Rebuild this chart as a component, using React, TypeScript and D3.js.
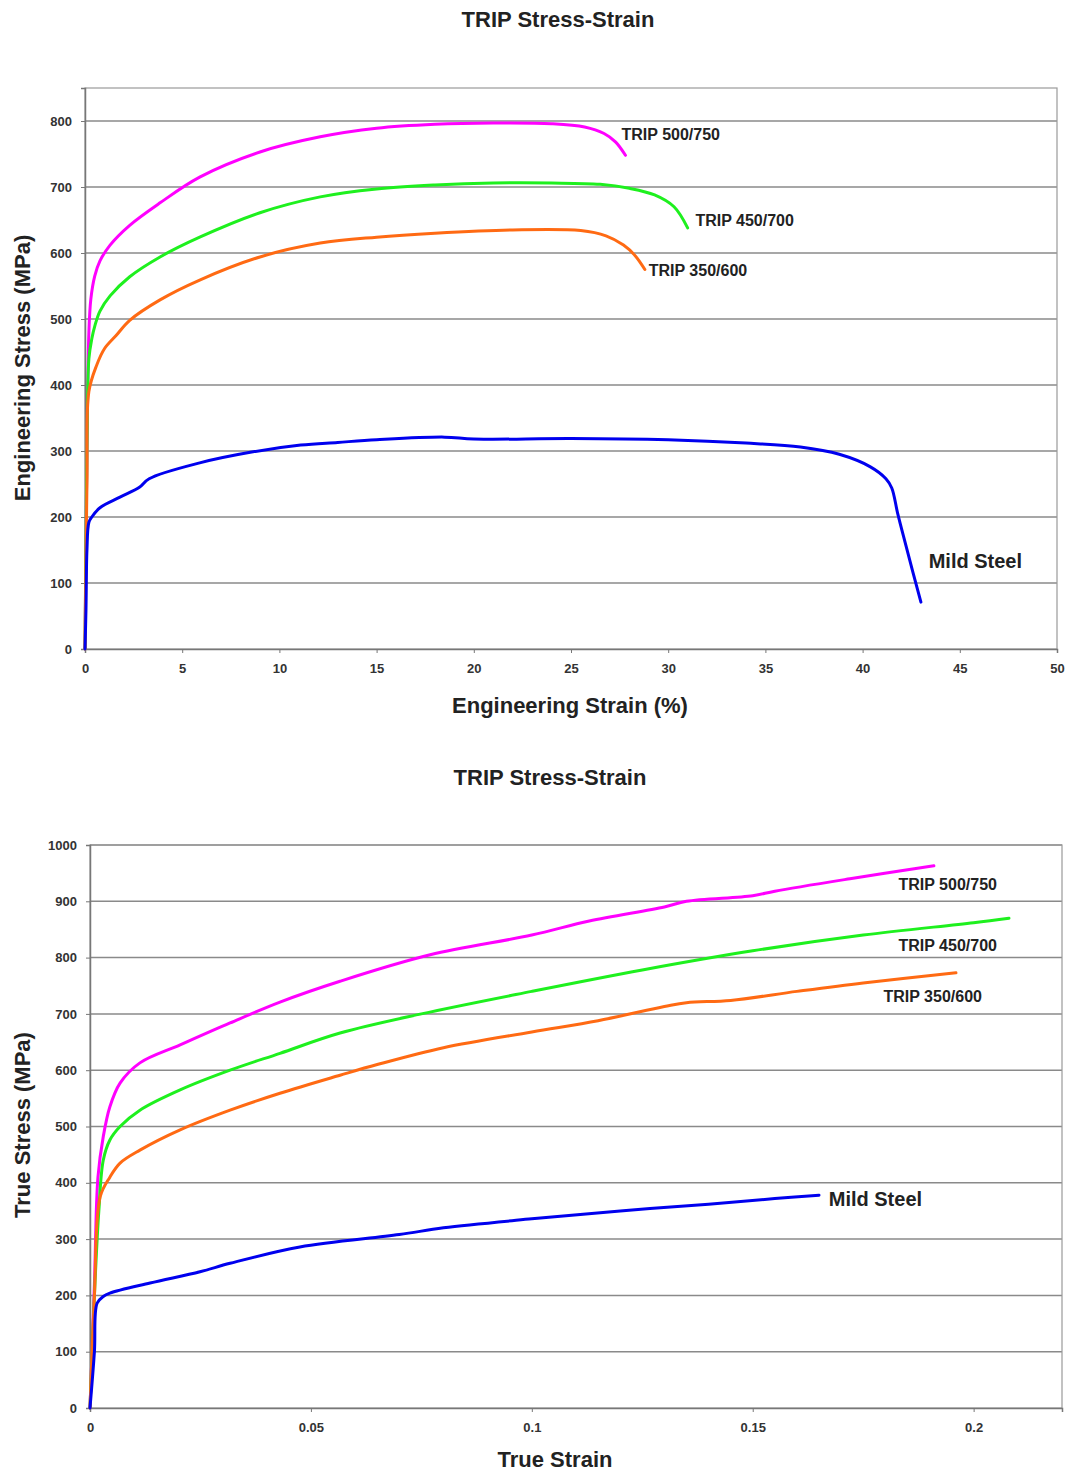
import { useEffect, useRef } from 'react';
import * as d3 from 'd3';

// Engineering curves: strain (%), stress (MPa)
const engTrip500 = [[0, 0], [0.1, 300], [0.2, 480], [0.3, 530], [0.5, 565], [0.77, 588], [1.29, 612], [2.3, 642], [3.86, 676], [5.9, 715], [9, 753], [12.1, 776], [15, 789], [18, 795], [21, 797], [24, 796], [25.7, 791], [26.7, 781], [27.3, 768], [27.8, 748]];
const engTrip450 = [[0, 0], [0.1, 300], [0.2, 440], [0.35, 470], [0.51, 490], [0.77, 512], [1.29, 535], [2.3, 564], [3.86, 594], [5.9, 624], [9, 661], [12.1, 685], [15, 697], [18, 703], [21, 706], [24, 706], [26.5, 704], [28, 698], [29.3, 688], [30.3, 670], [31, 638]];
const engTrip350 = [[0, 0], [0.1, 250], [0.2, 390], [0.6, 430], [1, 455], [1.6, 475], [2.3, 498], [3.86, 529], [5.9, 559], [9, 594], [12.1, 615], [15, 624], [18, 630], [22, 635], [25.5, 634], [26.8, 626], [27.7, 612], [28.3, 596], [28.8, 575]];
const engMild = [[0, 0], [0.05, 60], [0.1, 150], [0.2, 192], [0.35, 200], [0.77, 214], [1.8, 230], [2.8, 245], [3.3, 258], [5.9, 282], [8.5, 298], [11.1, 309], [13, 313], [15, 317], [18.5, 321], [20, 318], [25, 319], [30, 317], [34, 312], [36.8, 306], [38.8, 295], [40.4, 276], [41.2, 258], [41.5, 244], [41.8, 206], [42.2, 160], [42.6, 115], [43, 71]];

// True curves: true strain, true stress (MPa)
const trueTrip500 = [[0, 0], [0.001, 220], [0.0018, 410], [0.003, 482], [0.0045, 535], [0.0068, 577], [0.0113, 613], [0.0204, 645], [0.0317, 684], [0.043, 721], [0.0566, 758], [0.077, 805], [0.1, 840], [0.113, 865], [0.13, 890], [0.135, 900], [0.15, 910], [0.155, 918], [0.172, 940], [0.191, 963]];
const trueTrip450 = [[0, 0], [0.001, 200], [0.002, 350], [0.003, 440], [0.0045, 476], [0.0068, 500], [0.0113, 529], [0.0204, 565], [0.0317, 600], [0.043, 630], [0.0566, 666], [0.075, 700], [0.1, 740], [0.125, 778], [0.15, 812], [0.175, 840], [0.2, 862], [0.208, 870]];
const trueTrip350 = [[0, 0], [0.001, 200], [0.0023, 375], [0.0045, 410], [0.0068, 435], [0.0113, 458], [0.0204, 494], [0.0317, 529], [0.043, 559], [0.0566, 591], [0.065, 610], [0.08, 640], [0.1, 668], [0.115, 688], [0.13, 713], [0.135, 720], [0.145, 724], [0.16, 740], [0.175, 755], [0.196, 773]];
const trueMild = [[0, 0], [0.001, 100], [0.0016, 186], [0.003, 198], [0.0045, 204], [0.0136, 222], [0.0249, 242], [0.0317, 257], [0.0475, 286], [0.07, 308], [0.08, 320], [0.1, 336], [0.12, 350], [0.14, 362], [0.155, 372], [0.165, 378]];

const seriesNames = ['TRIP 500/750', 'TRIP 450/700', 'TRIP 350/600', 'Mild Steel'];
const seriesColors = ['#ff00ff', '#1ef01e', '#ff6a13', '#0000ee'];

const engXTicks = [0, 5, 10, 15, 20, 25, 30, 35, 40, 45, 50];
const engYTicks = [0, 100, 200, 300, 400, 500, 600, 700, 800];
const trueXTicks = [0, 0.05, 0.1, 0.15, 0.2];
const trueYTicks = [0, 100, 200, 300, 400, 500, 600, 700, 800, 900, 1000];

// label anchor points (data coords, baseline) for each series
const engLabels = [[27.6, 771], [31.4, 641], [29.0, 565], [43.4, 123]];
const trueLabels = [[0.183, 920], [0.183, 812], [0.1796, 721], [0.1672, 359]];

export default function App() {
  const svgRef = useRef(null);

  useEffect(() => {
    const root = d3.select(svgRef.current);
    root.selectAll('*').remove();
    const font = 'Liberation Sans, Arial, sans-serif';

    const drawPanel = (opts) => {
      const { left, right, top, bottom, xDomain, yDomain, xTicks, yTicks, xFmt, data, labels, title, titleX, titleY, xLabel, xLabelX, xLabelY, yLabel, yLabelX, yLabelY, labelSizes } = opts;
      const g = root.append('g');
      const x = d3.scaleLinear().domain(xDomain).range([left, right]);
      const y = d3.scaleLinear().domain(yDomain).range([bottom, top]);

      // gridlines
      g.selectAll('line.grid')
        .data(yTicks.filter(t => t > 0))
        .enter()
        .append('line')
        .attr('x1', left)
        .attr('x2', right)
        .attr('y1', d => y(d))
        .attr('y2', d => y(d))
        .attr('stroke', '#8a8a8a')
        .attr('stroke-width', 1.5);

      // plot border
      g.append('rect')
        .attr('x', left)
        .attr('y', top)
        .attr('width', right - left)
        .attr('height', bottom - top)
        .attr('fill', 'none')
        .attr('stroke', '#9a9a9a')
        .attr('stroke-width', 1.2);

      // axes
      const xAxis = g.append('g')
        .attr('transform', `translate(0,${bottom})`)
        .call(d3.axisBottom(x).tickValues(xTicks).tickFormat(xFmt).tickSize(4).tickPadding(11));
      const yAxis = g.append('g')
        .attr('transform', `translate(${left},0)`)
        .call(d3.axisLeft(y).tickValues(yTicks).tickFormat(d3.format('d')).tickSize(4).tickPadding(9));
      [xAxis, yAxis].forEach(a => {
        a.select('.domain').attr('stroke', '#777').attr('stroke-width', 1.5);
        a.selectAll('line').attr('stroke', '#777');
        a.selectAll('text')
          .attr('font-family', font)
          .attr('font-size', 13)
          .attr('font-weight', 'bold')
          .attr('fill', '#333');
      });

      // curves
      const line = d3.line()
        .x(d => x(d[0]))
        .y(d => y(d[1]))
        .curve(d3.curveCatmullRom.alpha(0.5));

      g.selectAll('path.curve')
        .data(data)
        .enter()
        .append('path')
        .attr('class', 'curve')
        .attr('d', d => line(d))
        .attr('fill', 'none')
        .attr('stroke', (d, i) => seriesColors[i])
        .attr('stroke-width', 3)
        .attr('stroke-linejoin', 'round')
        .attr('stroke-linecap', 'round');

      // series labels
      g.selectAll('text.lbl')
        .data(labels)
        .enter()
        .append('text')
        .attr('x', d => x(d[0]))
        .attr('y', d => y(d[1]))
        .attr('font-family', font)
        .attr('font-size', (d, i) => labelSizes[i])
        .attr('font-weight', 'bold')
        .attr('fill', '#222')
        .text((d, i) => seriesNames[i]);

      // titles
      g.append('text')
        .attr('x', titleX).attr('y', titleY)
        .attr('text-anchor', 'middle')
        .attr('font-family', font).attr('font-size', 22).attr('font-weight', 'bold').attr('fill', '#222')
        .text(title);
      g.append('text')
        .attr('x', xLabelX).attr('y', xLabelY)
        .attr('text-anchor', 'middle')
        .attr('font-family', font).attr('font-size', 22).attr('font-weight', 'bold').attr('fill', '#222')
        .text(xLabel);
      g.append('text')
        .attr('transform', `translate(${yLabelX},${yLabelY}) rotate(-90)`)
        .attr('text-anchor', 'middle')
        .attr('font-family', font).attr('font-size', 22).attr('font-weight', 'bold').attr('fill', '#222')
        .text(yLabel);
    };

    drawPanel({
      left: 85, right: 1057, top: 88, bottom: 649,
      xDomain: [0, 50], yDomain: [0, 850],
      xTicks: engXTicks, yTicks: engYTicks, xFmt: d3.format('d'),
      data: [engTrip500, engTrip450, engTrip350, engMild],
      labels: engLabels,
      labelSizes: [16, 16, 16, 20],
      title: 'TRIP Stress-Strain', titleX: 558, titleY: 27,
      xLabel: 'Engineering Strain (%)', xLabelX: 570, xLabelY: 713,
      yLabel: 'Engineering Stress (MPa)', yLabelX: 30, yLabelY: 368
    });

    drawPanel({
      left: 90, right: 1062, top: 845, bottom: 1408,
      xDomain: [0, 0.22], yDomain: [0, 1000],
      xTicks: trueXTicks, yTicks: trueYTicks, xFmt: d => (d === 0 ? '0' : String(+d.toFixed(2))),
      data: [trueTrip500, trueTrip450, trueTrip350, trueMild],
      labels: trueLabels,
      labelSizes: [16, 16, 16, 20],
      title: 'TRIP Stress-Strain', titleX: 550, titleY: 785,
      xLabel: 'True Strain', xLabelX: 555, xLabelY: 1467,
      yLabel: 'True Stress (MPa)', yLabelX: 30, yLabelY: 1125
    });
  }, []);

  return (
    <div style={{ position: 'absolute', left: 0, top: 0, background: '#fff' }}>
      <svg ref={svgRef} width={1071} height={1472} style={{ display: 'block' }}></svg>
    </div>
  );
}
